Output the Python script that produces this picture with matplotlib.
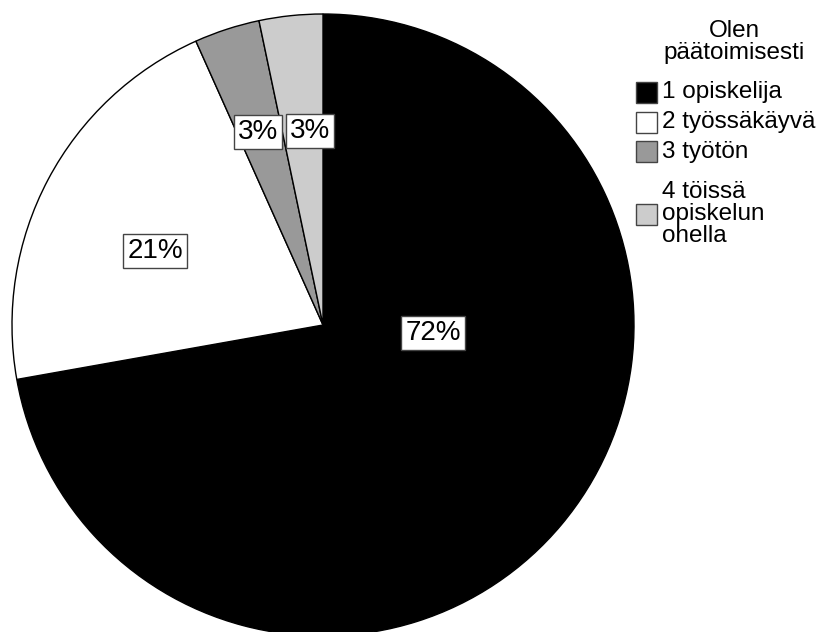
import matplotlib
matplotlib.use("Agg")
import matplotlib.pyplot as plt
from matplotlib.patches import Rectangle

plt.rcParams['font.family'] = ['Liberation Sans', 'DejaVu Sans']

categories = ["1 opiskelija", "2 työssäkäyvä", "3 työtön", "4 töissä\nopiskelun\nohella"]
shares = [72.2, 21.1, 3.4, 3.3]
colors = ["#000000", "#ffffff", "#999999", "#cccccc"]
legend_title = "Olen\npäätoimisesti"

# label anchor points (in pie-radius units)
label_pos = [(0.354, -0.026), (-0.54, 0.238), (-0.209, 0.62), (-0.042, 0.624)]

W, H = 825, 632
cx, cy, r = 323, 325, 311

fig = plt.figure(figsize=(W / 100, H / 100), dpi=100)
ax = fig.add_axes([0, 0, 1, 1])

ax.pie(shares, colors=colors, startangle=90, counterclock=False,
       radius=1.0, center=(0, 0), frame=True,
       wedgeprops=dict(edgecolor="black", linewidth=1.0))
ax.set_xlim(-cx / r, (W - cx) / r)
ax.set_ylim((cy - H) / r, cy / r)
ax.set_aspect("equal")
ax.axis("off")

for val, (x, y) in zip(shares, label_pos):
    ax.text(x, y, f"{val:.0f}%", ha="center", va="center", fontsize=20,
            bbox=dict(boxstyle="square,pad=0.15", facecolor="white",
                      edgecolor="#444444", linewidth=1.0))

# legend drawn by hand (pixel layout from the top-left corner)
def fx(px):
    return px / W

def fy(py):
    return 1 - py / H

fig.text(fx(734), fy(42), legend_title, ha="center", va="center",
         fontsize=17.5, linespacing=1.05, multialignment="center")

row_centers = [92, 122, 152, 214]
box = 21
for label, color, yc in zip(categories, colors, row_centers):
    fig.add_artist(Rectangle((fx(636), fy(yc + box / 2)), box / W, box / H,
                             transform=fig.transFigure, facecolor=color,
                             edgecolor="#444444", linewidth=1.0))
    fig.text(fx(662), fy(yc), label, ha="left", va="center",
             fontsize=17.5, linespacing=0.98)

fig.savefig("out.png", dpi=100)
